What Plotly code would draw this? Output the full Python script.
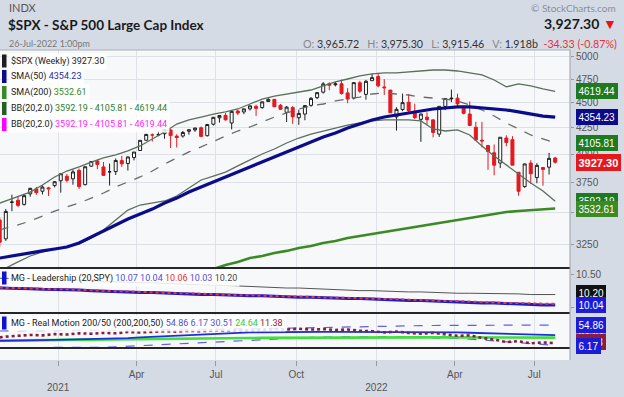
import plotly.graph_objects as go
import pandas as pd
import math

# ---------------- data ----------------
# weekly candles, one per week starting 2020-10-26 (Monday)
opens = [3441,3296,3583,3600,3566,3653,3694,3675,3693,3723,
         3764,3803,3781,3855, 3731,3892,3939,3885, 3842,3844,3942,3916,3969,
         4034,4130,4179,4185, 4192,4228,4169,4170,4216, 4229,4249,4173,4284,
         4347,4372,4296,4416, 4406,4437,4462,4450,4513, 4535,4474,4402,4450,
         4348,4385,4473,4553, 4610,4701,4689,4700,4602, 4548,4710,4587,4733,
         4778,4655,4632,4357,4431, 4505,4412,4332,4354, 4327,4188,4462,4541,
         4547,4462,4385,4255, 4130,4081,4013,3920,4151, 4135,3838,3715,3920,
         3792,3880,3883,3965.72]
highs = [3464,3529,3646,3628,3644,3705,3712,3726,3712,3761,
         3827,3823,3860,3871, 3887,3938,3950,3929, 3915,3961,3984,3978,4020,
         4130,4191,4194,4219, 4238,4238,4187,4219,4233, 4249,4262,4287,4356,
         4372,4394,4415,4430, 4440,4470,4480,4513,4546, 4536,4487,4466,4466,
         4429,4475,4559,4608, 4718,4714,4718,4744,4652, 4713,4731,4741,4808,
         4818,4749,4632,4453,4595, 4591,4490,4389,4402, 4330,4466,4546,4637,
         4594,4471,4513,4308, 4307,4082,4090,4158,4177, 4169,3838,3913,3946,
         3918,3880,4012,3975.30]
lows = [3234,3280,3511,3543,3556,3629,3645,3648,3636,3707,
        3663,3750,3730,3694, 3725,3885,3865,3805, 3723,3814,3885,3853,3944,
        4034,4125,4118,4168, 4144,4057,4062,4154,4183, 4210,4165,4165,4271,
        4300,4321,4234,4375, 4384,4420,4367,4438,4513, 4455,4427,4306,4288,
        4278,4323,4459,4537, 4595,4630,4672,4585,4495, 4533,4600,4531,4733,
        4662,4582,4395,4222,4414, 4401,4335,4115,4279, 4157,4161,4424,4507,
        4450,4381,4267,4129, 4063,3859,3811,3875,4073, 3901,3637,3703,3738,
        3743,3722,3818,3915.46]
closes = [3270,3509,3585,3558,3638,3699,3663,3710,3703,3756,
          3825,3768,3841,3714, 3887,3934,3907,3811, 3842,3943,3913,3975,4020,
          4129,4185,4180,4181, 4233,4174,4156,4204,4230, 4247,4166,4281,4352,
          4370,4327,4412,4395, 4437,4468,4442,4509,4535, 4459,4433,4455,4357,
          4391,4471,4545,4605, 4698,4683,4698,4595,4538, 4712,4621,4726,4766,
          4677,4663,4398,4432,4501, 4419,4349,4385,4329, 4204,4463,4543,4546,
          4488,4392,4272,4132, 4123,4024,3901,4158,4109, 3901,3675,3912,3825,
          3899,3863,3962,3927.30]
prior_close = 3465

ind_dates = ["2020-10-26","2020-11-02","2020-11-16","2020-11-30","2020-12-14","2020-12-28",
             "2021-01-11","2021-01-25","2021-02-08","2021-02-22","2021-03-08","2021-03-22",
             "2021-04-05","2021-04-19","2021-05-03","2021-05-17","2021-05-31","2021-06-14",
             "2021-06-28","2021-07-12","2021-07-26","2021-08-09","2021-08-23","2021-09-06",
             "2021-09-20","2021-10-04","2021-10-18","2021-11-01","2021-11-15","2021-11-29",
             "2021-12-13","2021-12-27","2022-01-10","2022-01-24","2022-02-07","2022-02-21",
             "2022-03-07","2022-03-21","2022-04-04","2022-04-18","2022-05-02","2022-05-16",
             "2022-05-30","2022-06-13","2022-06-27","2022-07-11","2022-07-25"]
bb_upper = [3577,3594,3627,3668,3728,3797,3849,3885,3929,3966,
            3993,4030,4076,4142,4209,4286,4326,4355,4385,4406,
            4436,4487,4538,4569,4591,4612,4633,4676,4719,4751,
            4784,4806,4817,4817,4828,4839,4850,4850,4839,4817,
            4795,4740,4666,4698,4676,4644,4619.44]
bb_mid = [3363,3378,3402,3433,3472,3512,3545,3577,3618,3660,
          3711,3754,3797,3849,3912,3965,4021,4067,4122,4170,
          4218,4257,4306,4355,4396,4436,4467,4487,4518,4538,
          4559,4591,4601,4591,4580,4559,4549,4538,4518,4477,
          4426,4365,4296,4238,4180,4142,4105.81]
bb_lower = [3055,3083,3126,3169,3198,3220,3235,3257,3302,3363,
            3441,3520,3561,3577,3594,3635,3702,3771,3805,3840,
            3894,3947,4002,4048,4104,4151,4189,4218,4247,4276,
            4296,4316,4326,4326,4326,4316,4238,4218,4228,4180,
            4076,3984,3903,3823,3745,3677,3592.19]
sma50 = [3154,3162,3176,3191,3206,3220,3235,3265,3310,3355,
         3402,3449,3488,3528,3577,3618,3668,3711,3754,3797,
         3840,3885,3929,3974,4021,4067,4113,4161,4199,4247,
         4286,4326,4355,4375,4396,4416,4436,4446,4457,4457,
         4446,4436,4426,4406,4385,4365,4354.23]
sma200_dates = ind_dates[16:]
sma200 = [3020,3048,3076,3104,3126,3154,3169,3191,3206,3228,
          3242,3265,3280,3302,3317,3332,3348,3363,3378,3394,
          3410,3425,3441,3457,3472,3488,3504,3512,3520,3528,3532.61]

lead_gray = [10.45,10.45,10.44,10.44,10.43,10.43,10.42,10.42,10.41,10.40,
             10.40,10.39,10.38,10.38,10.37,10.36,10.36,10.35,10.34,10.34,
             10.33,10.32,10.32,10.31,10.30,10.30,10.29,10.28,10.28,10.27,
             10.26,10.26,10.25,10.25,10.24,10.24,10.23,10.23,10.22,10.22,
             10.22,10.21,10.21,10.21,10.20,10.20,10.20]
lead_blue = [10.30,10.30,10.29,10.29,10.28,10.28,10.27,10.27,10.26,10.25,
             10.25,10.24,10.23,10.23,10.22,10.21,10.21,10.20,10.20,10.19,
             10.19,10.18,10.18,10.17,10.17,10.16,10.16,10.15,10.15,10.14,
             10.14,10.13,10.12,10.12,10.11,10.11,10.10,10.09,10.09,10.08,
             10.07,10.07,10.06,10.05,10.04,10.04,10.04]
lead_red = [10.31,10.30,10.30,10.29,10.29,10.28,10.28,10.27,10.27,10.26,
            10.25,10.25,10.24,10.23,10.23,10.22,10.22,10.21,10.20,10.20,
            10.19,10.19,10.18,10.18,10.17,10.17,10.16,10.16,10.15,10.15,
            10.14,10.14,10.13,10.13,10.12,10.11,10.11,10.10,10.10,10.09,
            10.08,10.08,10.07,10.07,10.06,10.06,10.06]

rm_upper = [40.5,40.6,40.8,41,41.2,41.4,41.6,41.8,42,42.3,
            42.6,42.9,43.1,43.3,43.5,43.8,44,44.3,44.6,44.8,
            45.1,45.3,46,46.7,47.4,48,48.7,49.4,50.1,50.8,
            51.5,52,52.5,52.8,53.1,53.4,53.7,54,54.2,54.4,
            54.5,54.6,54.7,54.8,54.8,54.85,54.86]
rm_lower = [0.5,0.5,0.5,0.6,0.7,0.8,0.9,1,1.2,1.5,
            2.5,4,5.5,7,8.5,10,11.5,13,14.5,16,
            17.5,19,20.5,22,23,24,25,26,26.5,27,
            27,27,26.8,26.5,26,25.5,25,24,22.5,21,
            19,17,15,12.5,10,8,6.17]
rm_blue = [17,17,17.5,18,18.5,19,19.5,20,20.5,21,
           22,23.5,25,26.5,28,29.5,31,32.5,34,35,
           36,37,37.5,38,38.2,38.3,38.3,38.3,38.2,38.2,
           38.1,38,38,37.9,37.8,37.6,37.4,37.2,37,36.3,
           35.5,34.7,33.8,33,32.2,31.3,30.51]
rm_green = [17.5,17.7,18,18.3,18.6,18.9,19.2,19.5,19.8,20.1,
            20.4,20.7,21,21.3,21.6,21.9,22.2,22.5,22.8,23.1,
            23.4,23.7,23.9,24.1,24.3,24.5,24.6,24.7,24.8,24.9,
            25,25,25.1,25.1,25.1,25.1,25.1,25.1,25,25,
            24.9,24.9,24.8,24.8,24.7,24.7,24.64]
rm_maroon = [25,27,29,31,30,33,32,35,34,36,
             35,38,37,39,40,39,41,40,42,41,
             43,42,44,45,44,46,44,45,43,44,
             41,40,37,39,36,34,36,32,29,30,
             24,20,14,16,11,13,11.38]

quarter_ticks = ["2021-01-01","2021-04-01","2021-07-01","2021-10-01",
                 "2022-01-01","2022-04-01","2022-07-01"]
quarter_labels = ["<br>2021","Apr","Jul","Oct","<br>2022","Apr","Jul"]
price_ticks = [3250,3500,3750,4000,4250,4500,4750,5000]
lead_ticks = [10.0, 10.5]

# ---------------- layout helpers ----------------
W, H = 624, 397
ML, MR, MT, MB = 0, 54, 50, 37
PW, PH = W - ML - MR, H - MT - MB

def py(p):   # pixel row -> paper y
    return (MT + PH - p) / PH

def px(p):   # pixel column -> paper x
    return (p - ML) / PW

weeks = pd.date_range("2020-10-26", periods=len(closes), freq="7D")

UP = "#1e1e1e"
DN = "#e3191f"

fig = go.Figure()

# Bollinger bands
fig.add_trace(go.Scatter(x=ind_dates, y=bb_upper, mode="lines",
                         line=dict(color="#5b6e5b", width=1.3), yaxis="y", hoverinfo="skip"))
fig.add_trace(go.Scatter(x=ind_dates, y=bb_lower, mode="lines",
                         line=dict(color="#5b6e5b", width=1.3), yaxis="y", hoverinfo="skip"))
fig.add_trace(go.Scatter(x=ind_dates, y=bb_mid, mode="lines",
                         line=dict(color="#6a6a6a", width=1.3, dash="dash"), yaxis="y", hoverinfo="skip"))
# moving averages
fig.add_trace(go.Scatter(x=ind_dates, y=sma50, mode="lines",
                         line=dict(color="#0c0c8a", width=3.2), yaxis="y", hoverinfo="skip"))
fig.add_trace(go.Scatter(x=sma200_dates, y=sma200, mode="lines",
                         line=dict(color="#3b8a24", width=2.6), yaxis="y", hoverinfo="skip"))

# candles split by colour (close vs previous close)
prevs = [prior_close] + closes[:-1]
for colour, pick in ((UP, lambda c, p: c >= p), (DN, lambda c, p: c < p)):
    idx = [i for i in range(len(closes)) if pick(closes[i], prevs[i])]
    fig.add_trace(go.Candlestick(
        x=[weeks[i] for i in idx],
        open=[opens[i] for i in idx], high=[highs[i] for i in idx],
        low=[lows[i] for i in idx], close=[closes[i] for i in idx],
        increasing=dict(line=dict(color=colour, width=1), fillcolor="white"),
        decreasing=dict(line=dict(color=colour, width=1), fillcolor=colour),
        whiskerwidth=0, yaxis="y", hoverinfo="skip", showlegend=False))

# Leadership panel
fig.add_trace(go.Scatter(x=ind_dates, y=lead_gray, mode="lines",
                         line=dict(color="#555555", width=1), yaxis="y2", hoverinfo="skip"))
fig.add_trace(go.Scatter(x=ind_dates, y=lead_blue, mode="lines",
                         line=dict(color="#1c1cc8", width=3), yaxis="y2", hoverinfo="skip"))
fig.add_trace(go.Scatter(x=ind_dates, y=lead_red, mode="lines",
                         line=dict(color="#e8383a", width=2, dash="dot"), yaxis="y2", hoverinfo="skip"))

# Real Motion panel
fig.add_trace(go.Scatter(x=ind_dates, y=rm_upper, mode="lines",
                         line=dict(color="#6060e0", width=1.2, dash="dash"), yaxis="y3", hoverinfo="skip"))
fig.add_trace(go.Scatter(x=ind_dates, y=rm_lower, mode="lines",
                         line=dict(color="#6060e0", width=1.2, dash="dash"), yaxis="y3", hoverinfo="skip"))
fig.add_trace(go.Scatter(x=ind_dates, y=rm_green, mode="lines",
                         line=dict(color="#3ee03e", width=2.6), yaxis="y3", hoverinfo="skip"))
fig.add_trace(go.Scatter(x=ind_dates, y=rm_blue, mode="lines",
                         line=dict(color="#1f2fd8", width=1.8), yaxis="y3", hoverinfo="skip"))
fig.add_trace(go.Scatter(x=ind_dates, y=rm_maroon, mode="lines",
                         line=dict(color="#8c1c3c", width=2.6, dash="dot"), yaxis="y3", hoverinfo="skip"))

AXF = dict(family="Liberation Sans, Arial", size=10, color="#555")
GRID = "#dde1e8"

fig.update_layout(
    width=W, height=H, margin=dict(l=ML, r=MR, t=MT, b=MB),
    paper_bgcolor="#d5dbe5", plot_bgcolor="#f7f8fa",
    showlegend=False, hovermode=False,
    xaxis=dict(type="date", range=["2020-10-26 08:00", "2022-08-11"],
               tickvals=quarter_ticks, ticktext=quarter_labels,
               showgrid=True, gridcolor=GRID, gridwidth=1,
               ticks="outside", ticklen=5, tickcolor="#999", tickfont=AXF,
               rangeslider=dict(visible=False), anchor="y3",
               showline=False, zeroline=False),
    yaxis=dict(domain=[py(268), 1], type="log",
               range=[math.log10(3083), math.log10(5077)],
               side="right", tickvals=price_ticks, ticktext=[str(v) for v in price_ticks],
               showgrid=True, gridcolor=GRID, ticks="outside", ticklen=3,
               tickcolor="#999", tickfont=AXF, zeroline=False, anchor="x"),
    yaxis2=dict(domain=[py(313), py(268)], range=[9.917, 10.607], side="right",
                tickvals=lead_ticks, ticktext=["10.00", "10.50"], showgrid=False,
                ticks="outside", ticklen=3, tickcolor="#999", tickfont=AXF,
                zeroline=False, anchor="x"),
    yaxis3=dict(domain=[0, py(313)], range=[-29.1, 83.7], side="right",
                showticklabels=False, showgrid=False, zeroline=False, anchor="x"),
)

shapes = []
# panel frame & dividers
shapes.append(dict(type="line", xref="paper", yref="paper", x0=0, x1=1, y0=1, y1=1,
                   line=dict(color="#a8adb5", width=1)))
for p in (268, 313, 348):
    shapes.append(dict(type="line", xref="paper", yref="paper", x0=0, x1=1,
                       y0=py(p), y1=py(p), line=dict(color="#262626", width=2)))
shapes.append(dict(type="line", xref="paper", yref="paper", x0=1, x1=1, y0=0, y1=1,
                   line=dict(color="#9aa0a8", width=1)))

ann = []
# header
HF = "Lato, Roboto, sans-serif"
ann.append(dict(text="INDX", x=px(7), y=py(8), xanchor="left", yanchor="middle",
                font=dict(family=HF, size=11, color="#555")))
ann.append(dict(text="<b>$SPX - S&P 500 Large Cap Index</b>", x=px(6), y=py(25),
                xanchor="left", yanchor="middle",
                font=dict(family=HF, size=13.5, color="#1a1a1a")))
ann.append(dict(text="26-Jul-2022 1:00pm", x=px(7), y=py(43), xanchor="left", yanchor="middle",
                font=dict(family=HF, size=9, color="#777")))
ann.append(dict(text="© StockCharts.com", x=px(618), y=py(8), xanchor="right", yanchor="middle",
                font=dict(family=HF, size=10, color="#8a8f98")))
ann.append(dict(text="<b>3,927.30</b> <span style='color:#ee1111'>▼</span>", x=px(619), y=py(24),
                xanchor="right", yanchor="middle", font=dict(family=HF, size=14, color="#1a1a1a")))
ohlc = ("<span style='color:#888'>O:</span> 3,965.72   <span style='color:#888'>H:</span> 3,975.30   "
        "<span style='color:#888'>L:</span> 3,915.46   <span style='color:#888'>V:</span> 1.918b  "
        "<span style='color:#e8303a'>-34.33 (-0.87%)</span>")
ann.append(dict(text=ohlc, x=px(619), y=py(43), xanchor="right", yanchor="middle",
                font=dict(family=HF, size=10.7, color="#333")))

# indicator legends (top-left of each panel)
LF = dict(family="Roboto, sans-serif", size=9, color="#222")
rows = [
    (61, "$SPX (Weekly) 3927.30", "#1e1e1e"),
    (76.5, "SMA(50) <span style='color:#2b2ba5'>4354.23</span>", "#0c0c8a"),
    (92.5, "SMA(200) <span style='color:#3b8a24'>3532.61</span>", "#3b8a24"),
    (108.5, "BB(20,2.0) <span style='color:#2e7d32'>3592.19 - 4105.81 - 4619.44</span>", "#245c24"),
    (124.5, "BB(20,2.0) <span style='color:#ff1fff'>3592.19 - 4105.81 - 4619.44</span>", "#ff00ff"),
    (278, "MG - Leadership (20,SPY) <span style='color:#5050d8'>10.07 10.04</span> "
          "<span style='color:#e83030'>10.06</span> <span style='color:#5050d8'>10.03</span> "
          "<span style='color:#444'>10.20</span>", "#1010d0"),
    (323, "MG - Real Motion 200/50 (200,200,50) <span style='color:#5050d8'>54.86 6.17 30.51</span> "
          "<span style='color:#33cc33'>24.64</span> <span style='color:#8c2040'>11.38</span>", "#1010d0"),
]
for p, txt, sq in rows:
    ann.append(dict(text=txt, x=px(8), y=py(p), xanchor="left", yanchor="middle",
                    bgcolor="rgba(255,255,255,0.85)", borderpad=2, font=LF))
    shapes.append(dict(type="rect", xref="paper", yref="paper", x0=px(2), x1=px(6.5),
                       y0=py(p + 6.5), y1=py(p - 6.5), fillcolor=sq, line=dict(width=0)))

# right-hand value tags
def tag(yref, yval, text, bg, bold=False, size=10):
    t = f"<b>{text}</b>" if bold else text
    ann.append(dict(text=t, xref="paper", x=1, xshift=6, xanchor="left", yref=yref, y=yval,
                    yanchor="middle", bgcolor=bg, bordercolor=bg, borderpad=1.5, borderwidth=1,
                    font=dict(family="Liberation Sans, Arial", size=size, color="white")))

tag("y", math.log10(bb_lower[-1]), "3592.19", "#1e7a1e")
tag("y", math.log10(sma200[-1]), "3532.61", "#3b8a24")
tag("y", math.log10(bb_upper[-1]), "4619.44", "#1e7a1e")
tag("y", math.log10(sma50[-1]), "4354.23", "#0c0c8a")
tag("y", math.log10(bb_mid[-1]), "4105.81", "#1e7a1e")
tag("y", math.log10(closes[-1]), "3927.30", "#e3191f", bold=True, size=11)
tag("y2", lead_gray[-1] + 0.03, "10.20", "#111111")
tag("y2", lead_blue[-1], "10.04", "#1c1cd8")
tag("y3", rm_green[-1] + 3, "24.64", "#33cc33")
tag("y3", rm_maroon[-1] + 3, "11.38", "#8c1c3c")
tag("y3", rm_upper[-1], "54.86", "#1c1cd8")
tag("y3", rm_lower[-1] - 2, "6.17", "#1c1cd8")

for a in ann:
    a.setdefault("xref", "paper")
    a.setdefault("yref", "paper")
    a["showarrow"] = False
fig.update_layout(annotations=ann, shapes=shapes)

fig.write_html("out.html", config={"displayModeBar": False},
               post_script="document.body.style.margin='0';")
